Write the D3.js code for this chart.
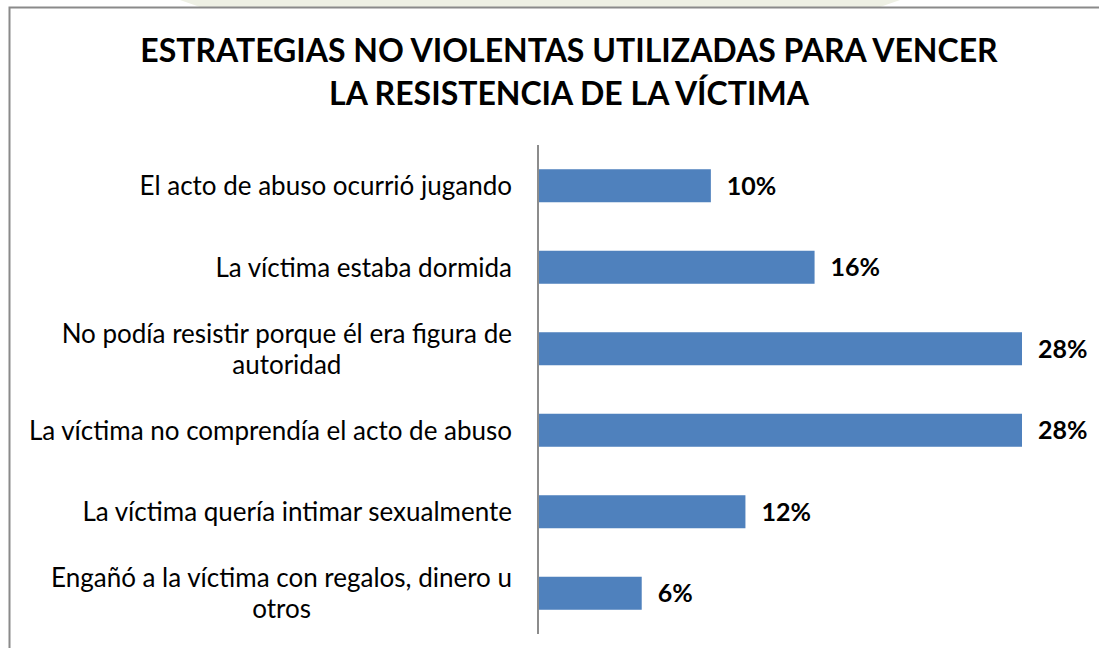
<!DOCTYPE html>
<meta charset="utf-8">
<style>
    body { margin: 0; background: #fff; }
    text { font-family: Lato, "Open Sans", sans-serif; fill: #000; }
    .title { font-weight: bold; font-size: 32px; }
    .cat { font-size: 26px; }
    .val { font-weight: bold; font-size: 25px; }
</style>
<body>
<script src="https://d3js.org/d3.v7.min.js"></script>
<script>

    var title = ["ESTRATEGIAS NO VIOLENTAS UTILIZADAS PARA VENCER", "LA RESISTENCIA DE LA VÍCTIMA"];

    var categories = [
        ["El acto de abuso ocurrió jugando"],
        ["La víctima estaba dormida"],
        ["No podía resistir porque él era figura de", "autoridad"],
        ["La víctima no comprendía el acto de abuso"],
        ["La víctima quería intimar sexualmente"],
        ["Engañó a la víctima con regalos, dinero u", "otros"]
    ];
    var values = [10, 16, 28, 28, 12, 6];

    var width = 1099, height = 648;
    var axisX = 538, plotTop = 145, plotBottom = 634;

    var svg = d3.select("body").append("svg")
            .attr("width", width)
            .attr("height", height);

    // faint watermark peeking over the top edge
    svg.append("path")
            .attr("d", "M180,0 L900,0 L880,7 L200,7 Z")
            .attr("fill", "#eef0e4");

    // chart border
    svg.append("rect")
            .attr("x", 9.5).attr("y", 7.5)
            .attr("width", width + 20).attr("height", height + 20)
            .attr("fill", "#fff")
            .attr("stroke", "#8a8a8a")
            .attr("stroke-width", 2);

    svg.selectAll("text.title")
            .data(title)
        .enter().append("text")
            .attr("class", "title")
            .attr("x", 569)
            .attr("y", function(d, i) { return 62 + i * 43; })
            .attr("text-anchor", "middle")
            .text(function(d) { return d; });

    var x = d3.scaleLinear()
            .domain([0, 28])
            .range([axisX, 1022]);

    var y = d3.scaleBand()
            .domain(d3.range(categories.length))
            .range([plotTop, plotBottom])
            .paddingInner(0.595)
            .paddingOuter(0.2975);

    svg.selectAll("rect.bar")
            .data(values)
        .enter().append("rect")
            .attr("class", "bar")
            .attr("x", x(0))
            .attr("y", function(d, i) { return y(i); })
            .attr("width", function(d) { return x(d) - x(0); })
            .attr("height", y.bandwidth())
            .attr("fill", "#4f81bd");

    svg.selectAll("text.val")
            .data(values)
        .enter().append("text")
            .attr("class", "val")
            .attr("x", function(d) { return x(d) + 16; })
            .attr("y", function(d, i) { return y(i) + y.bandwidth() / 2; })
            .attr("dy", "0.36em")
            .text(function(d) { return d + "%"; });

    // category labels: block right-aligned at 512, lines centred in the block
    var labelRight = 512, lineH = 31;
    categories.forEach(function(lines, i) {
        var g = svg.append("g");
        var cy = y(i) + y.bandwidth() / 2;
        var ts = lines.map(function(l, j) {
            return g.append("text")
                    .attr("class", "cat")
                    .attr("text-anchor", "middle")
                    .attr("y", cy + (j - (lines.length - 1) / 2) * lineH)
                    .attr("dy", "0.36em")
                    .text(l);
        });
        var w = d3.max(ts, function(t) { return t.node().getComputedTextLength(); });
        ts.forEach(function(t) { t.attr("x", labelRight - w / 2); });
    });

    svg.append("line")
            .attr("x1", axisX).attr("x2", axisX)
            .attr("y1", plotTop).attr("y2", plotBottom)
            .attr("stroke", "#8c8c8c")
            .attr("stroke-width", 2);

</script>
